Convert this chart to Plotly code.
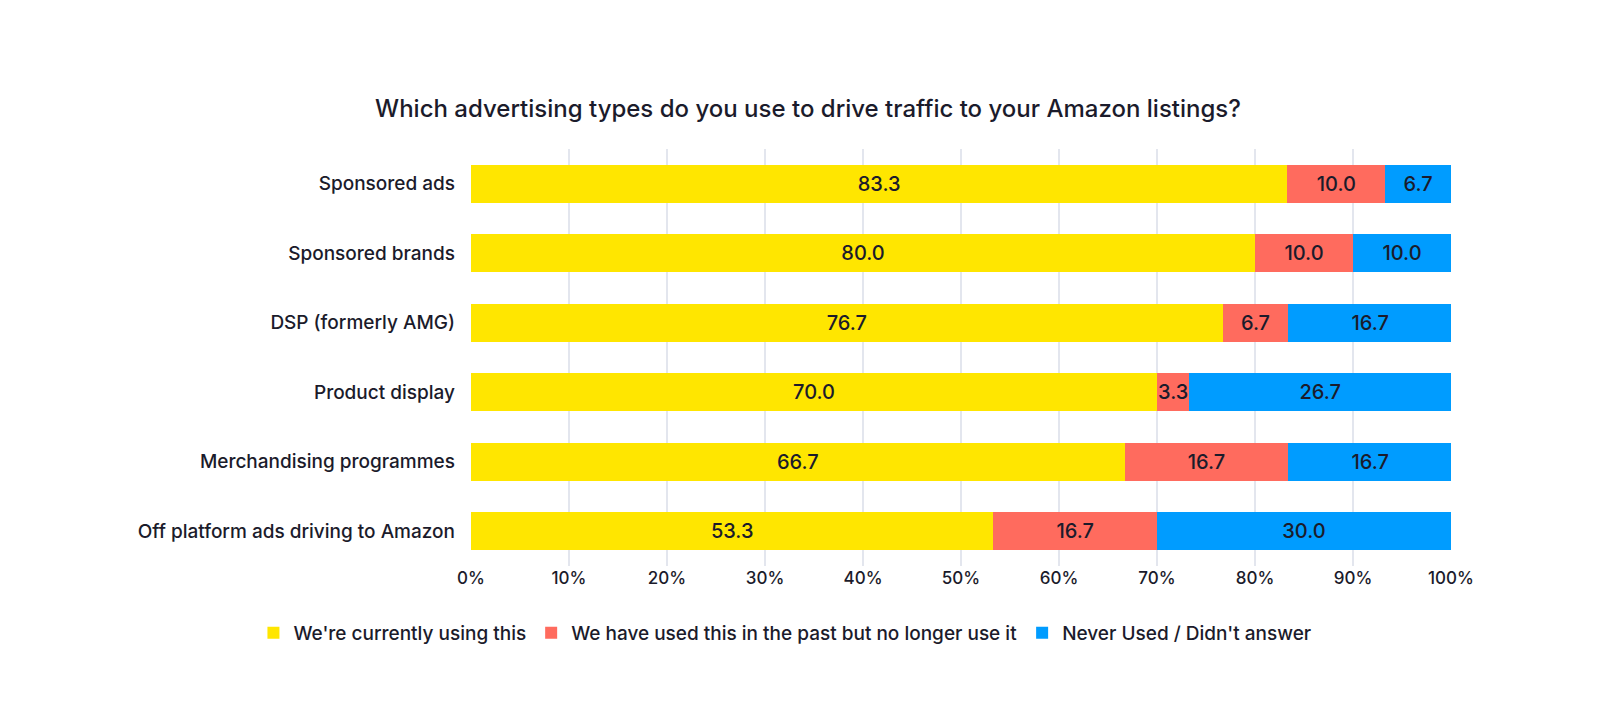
import plotly.graph_objects as go

categories = ['Sponsored ads', 'Sponsored brands', 'DSP (formerly AMG)', 'Product display',
              'Merchandising programmes', 'Off platform ads driving to Amazon']
current = [83.3, 80.0, 76.7, 70.0, 66.7, 53.3]
past = [10.0, 10.0, 6.7, 3.3, 16.7, 16.7]
never = [6.7, 10.0, 16.7, 26.7, 16.7, 30.0]
tick_vals = [0, 10, 20, 30, 40, 50, 60, 70, 80, 90, 100]
tick_text = [f'{v}%' for v in tick_vals]

series = [
    ("We're currently using this", current, '#FFE600'),
    ('We have used this in the past but no longer use it', past, '#FF6B5E'),
    ("Never Used / Didn't answer", never, '#009CFF'),
]

ink = '#1b1b2b'
fig = go.Figure()
for name, vals, color in series:
    fig.add_trace(go.Bar(
        y=categories, x=vals, name=name, orientation='h',
        marker_color=color, marker_line_width=0,
        text=[f'{v:.1f}' for v in vals], textposition='inside',
        insidetextanchor='middle', textangle=0, constraintext='none',
        textfont=dict(size=20, color=ink, weight=500),
    ))

fig.update_layout(
    barmode='stack',
    bargap=0.45,
    width=1600, height=720,
    paper_bgcolor='white', plot_bgcolor='white',
    font=dict(family='Inter, Roboto, sans-serif', color=ink, size=19, weight=500),
    title=dict(text='Which advertising types do you use to drive traffic to your Amazon listings?',
               x=0.5, xref='container', xanchor='center', y=0.86, yanchor='middle',
               font=dict(size=24, color=ink, weight=500)),
    margin=dict(l=463, r=157, t=141, b=162, autoexpand=False),
    legend=dict(orientation='h', x=-0.222, xanchor='left', y=-0.115, yanchor='top',
                font=dict(size=19, color=ink, weight=500), traceorder='normal'),
)
fig.update_xaxes(range=[0, 100], tickvals=tick_vals, ticktext=tick_text,
                 showgrid=True, gridcolor='#e3e6ee', gridwidth=1.5,
                 zeroline=False, showline=False, tickfont=dict(size=17, weight=500), ticks='')
fig.update_yaxes(autorange='reversed', showgrid=False, ticks='', ticklabelstandoff=15,
                 tickfont=dict(size=19, weight=500))

fig.write_html('out.html')
